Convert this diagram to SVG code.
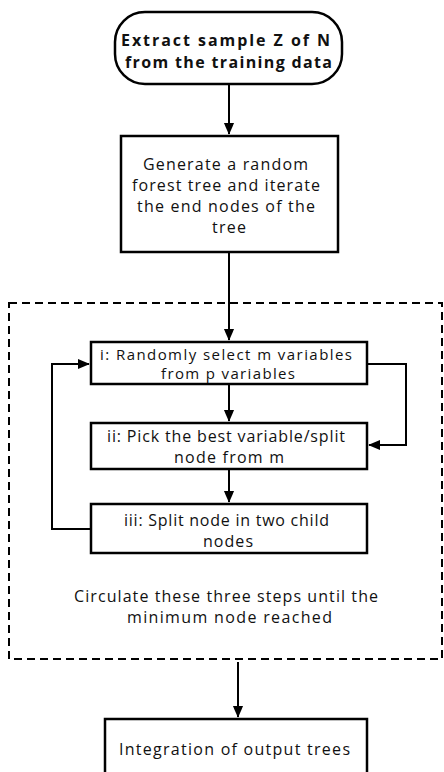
<svg xmlns="http://www.w3.org/2000/svg" width="444" height="772" viewBox="0 0 444 772">
<defs>
<marker id="ah" markerWidth="12" markerHeight="14" refX="13" refY="6" orient="auto" markerUnits="userSpaceOnUse" viewBox="0 0 14 12">
<path d="M0,0 L14,6 L0,12 Z" fill="#000"/>
</marker>
</defs>
<style>
.box{fill:#fff;stroke:#000;stroke-width:2.5}
.t{font-family:"Open Sans","Noto Sans",sans-serif;font-size:16px;fill:#111;text-anchor:middle}
.s{font-size:15px}
.b{font-weight:bold}
.c{fill:none;stroke:#000;stroke-width:2}
</style>
<rect width="444" height="772" fill="#fff"/>
<g id="loop-region">
<rect x="9" y="303" width="433" height="356" fill="none" stroke="#000" stroke-width="2" stroke-dasharray="8,5"/>
<text class="t" x="226" y="602" textLength="304" lengthAdjust="spacing">Circulate these three steps until the</text>
<text class="t" x="229.5" y="623" textLength="205" lengthAdjust="spacing">minimum node  reached</text>
</g>
<g id="connectors">
<path class="c" d="M229,84 V134" marker-end="url(#ah)"/>
<path class="c" d="M229,252 V340" marker-end="url(#ah)"/>
<path class="c" d="M229,384 V421" marker-end="url(#ah)"/>
<path class="c" d="M229,469 V502" marker-end="url(#ah)"/>
<path class="c" d="M91,529 H52 V364 H89" marker-end="url(#ah)"/>
<path class="c" d="M367,364 H406 V445 H369" marker-end="url(#ah)"/>
<path class="c" d="M238,662 V717" marker-end="url(#ah)"/>
</g>
<g id="n-extract">
<rect class="box" x="115" y="12" width="227" height="72" rx="30" ry="30"/>
<text class="t b" x="225.5" y="46" textLength="209" lengthAdjust="spacing">Extract sample Z of  N</text>
<text class="t b" x="228.5" y="68" textLength="207" lengthAdjust="spacing">from the training data</text>
</g>
<g id="n-generate">
<rect class="box" x="121" y="136" width="217" height="116"/>
<text class="t" x="225.5" y="170" textLength="165" lengthAdjust="spacing">Generate a random</text>
<text class="t" x="226" y="191" textLength="188" lengthAdjust="spacing">forest tree and iterate</text>
<text class="t" x="226" y="212" textLength="178" lengthAdjust="spacing">the end nodes of the</text>
<text class="t" x="229" y="233" textLength="34" lengthAdjust="spacing">tree</text>
</g>
<g id="n-step1">
<rect class="box" x="91" y="342" width="276" height="42"/>
<text class="t s" x="226" y="360" textLength="252" lengthAdjust="spacing">i: Randomly select m variables</text>
<text class="t s" x="228" y="379" textLength="134" lengthAdjust="spacing">from p variables</text>
</g>
<g id="n-step2">
<rect class="box" x="91" y="423" width="276" height="46"/>
<text class="t" x="226" y="442" textLength="238" lengthAdjust="spacing">ii: Pick the best variable/split</text>
<text class="t" x="229" y="463" textLength="110" lengthAdjust="spacing">node from m</text>
</g>
<g id="n-step3">
<rect class="box" x="91" y="504" width="276" height="49"/>
<text class="t" x="226.5" y="526" textLength="205" lengthAdjust="spacing">iii: Split node in two child</text>
<text class="t" x="228" y="547" textLength="50" lengthAdjust="spacing">nodes</text>
</g>
<g id="n-integrate">
<rect class="box" x="105" y="719" width="262" height="60"/>
<text class="t" x="234.5" y="755" textLength="231" lengthAdjust="spacing">Integration of output trees</text>
</g>
</svg>
